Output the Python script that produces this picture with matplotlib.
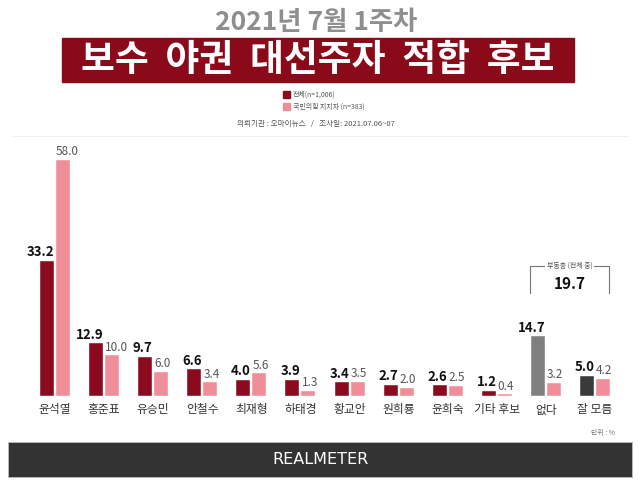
import matplotlib
matplotlib.use("Agg")
import matplotlib.pyplot as plt
from matplotlib.patches import Rectangle
import numpy as np

plt.rcParams['font.family'] = ['Noto Sans CJK KR', 'DejaVu Sans']

# 데이터
후보 = ["윤석열", "홍준표", "유승민", "안철수", "최재형", "하태경",
       "황교안", "원희룡", "윤희숙", "기타 후보", "없다", "잘 모름"]
전체 = [33.2, 12.9, 9.7, 6.6, 4.0, 3.9, 3.4, 2.7, 2.6, 1.2, 14.7, 5.0]
국민의힘 = [58.0, 10.0, 6.0, 3.4, 5.6, 1.3, 3.5, 2.0, 2.5, 0.4, 3.2, 4.2]
부동층 = 19.7

RED = "#8C0A1E"
PINK = "#EF8E99"
전체_색 = [RED] * 10 + ["#808080", "#3A3A3A"]

W, H = 640, 487
fig = plt.figure(figsize=(W / 100, H / 100), dpi=100)
fig.patch.set_facecolor("white")

def fx(px):
    return px / W

def fy(py):
    return 1 - py / H

# 제목
fig.text(fx(316), fy(23), "2021년 7월 1주차", ha="center", va="center",
         fontsize=19, fontweight="bold", color="#8E8E8E")
fig.patches.append(Rectangle((fx(62), fy(82)), fx(574) - fx(62), fy(38) - fy(82),
                             transform=fig.transFigure, color="#8A0A1A", zorder=0))
fig.text(fx(318), fy(61), "보수  야권  대선주자  적합  후보", ha="center", va="center",
         fontsize=26.5, fontweight="bold", color="white")

# 범례
fig.patches.append(Rectangle((fx(283), fy(98)), 7 / W, 7 / H,
                             transform=fig.transFigure, color=RED))
fig.text(fx(293), fy(94.5), "전체(n=1,006)", ha="left", va="center", fontsize=5, color="#555555")
fig.patches.append(Rectangle((fx(283), fy(110)), 7 / W, 7 / H,
                             transform=fig.transFigure, color=PINK))
fig.text(fx(293), fy(106.5), "국민의힘 지지자 (n=383)", ha="left", va="center", fontsize=5, color="#555555")
fig.text(fx(316), fy(124), "의뢰기관 : 오마이뉴스   /   조사일: 2021.07.06~07", ha="center", va="center",
         fontsize=5.5, color="#555555")
fig.lines.append(plt.Line2D([fx(12), fx(628)], [fy(136), fy(136)], transform=fig.transFigure,
                            color="#f0f0f0", lw=0.8))

# 막대 그래프
ppu = 49.09  # 그룹 간격(px)
scale = 4.07  # 1% 당 px
ax = fig.add_axes([0, fy(396), 1, (396 - 140) / H])
ax.set_xlim(-55 / ppu, 11 + 45 / ppu)
ax.set_ylim(0, 256 / scale)
ax.axis("off")

x = np.arange(len(후보))
bw = 14 / ppu
off = 8 / ppu
ax.bar(x - off, 전체, width=bw, color=전체_색, edgecolor="white", linewidth=0.3)
ax.bar(x + off, 국민의힘, width=bw, color=PINK, edgecolor="white", linewidth=0.3)

for i in range(len(후보)):
    ax.text(x[i] - off + bw / 2 + 0.01, 전체[i] + 0.4, f"{전체[i]:.1f}", ha="right", va="bottom",
            fontsize=9.5, fontweight="bold", color="#111111")
    ax.text(x[i] + off - bw / 2, 국민의힘[i] + 0.4, f"{국민의힘[i]:.1f}", ha="left", va="bottom",
            fontsize=8.5, color="#555555")
    ax.text(x[i], -14 / scale, 후보[i], ha="center", va="center", fontsize=8.5,
            color="#333333", clip_on=False)

# 부동층 괄호 (없다, 잘 모름)
bx0 = 10 - 15.5 / ppu
bx1 = 11 + 14 / ppu
by_top = 130 / scale
by_bot = 103 / scale
ax.plot([bx0, bx0, bx1, bx1], [by_bot, by_top, by_top, by_bot], color="#777777", lw=0.8,
        clip_on=False)
ax.text((bx0 + bx1) / 2, by_top, "부동층 (전체 중)", ha="center", va="center", fontsize=5,
        color="#555555", bbox=dict(facecolor="white", edgecolor="none", pad=1))
ax.text((bx0 + bx1) / 2, 112 / scale, f"{부동층:.1f}", ha="center", va="center",
        fontsize=11, fontweight="bold", color="#111111")

fig.text(fx(603), fy(433), "단위 : %", ha="center", va="center", fontsize=5, color="#777777")

# 하단 로고 바
fig.patches.append(Rectangle((fx(8), fy(477)), fx(632) - fx(8), (477 - 442) / H,
                             transform=fig.transFigure, facecolor="#333333",
                             edgecolor="#bbbbbb", lw=0.6))
fig.text(fx(320), fy(460), "REALMETER", ha="center", va="center", fontsize=11.5,
         color="white", family=["Liberation Sans Narrow", "DejaVu Sans"])

fig.savefig("out.png", dpi=100)
